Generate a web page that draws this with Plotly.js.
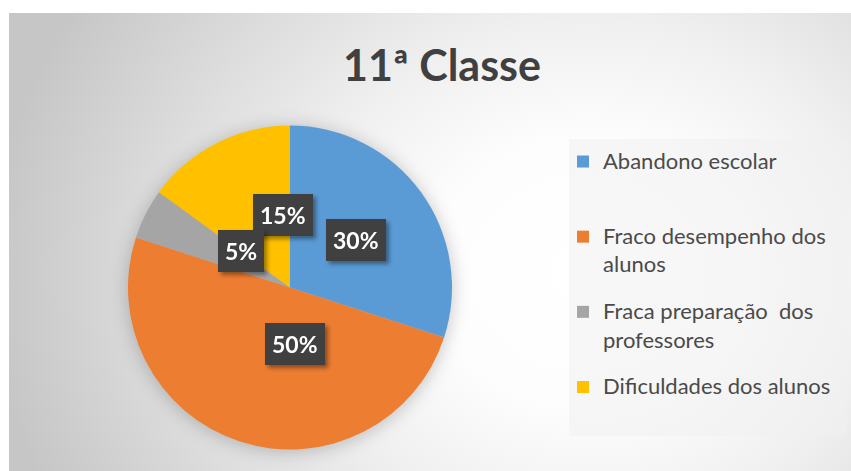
<!DOCTYPE html>
<html>
<head>
<meta charset="utf-8">
<script src="https://cdn.plot.ly/plotly-3.0.1.min.js"></script>
<style>
  html, body { margin: 0; padding: 0; background: #ffffff; }
  #wrap { position: relative; width: 851px; height: 471px; overflow: hidden; }
  #bg { position: absolute; left: 9px; top: 13px; width: 842px; height: 458px;
        background: radial-gradient(ellipse 600px 520px at 580px 260px, #ffffff 0%, #fdfdfd 26%, #f0f0f0 48%, #dddddd 72%, #c6c6c6 100%); }
  #chart { position: absolute; left: 0; top: 0; width: 851px; height: 471px; }
  .pielayer { filter: drop-shadow(0px 2px 9px rgba(0,0,0,0.22)); }
  .annotation { filter: drop-shadow(3px 3px 2px rgba(0,0,0,0.4)); }
  .legendtext tspan.line { font-size: 22px; }
</style>
</head>
<body>
<div id="wrap">
  <div id="bg"></div>
  <div id="chart"></div>
</div>
<script>
// ---- data ----
const categories = [
  "Abandono escolar",
  "Fraco desempenho dos alunos",
  "Fraca preparação  dos professores",
  "Dificuldades dos alunos"
];
// legend labels (line-broken as in the reference; blank lines keep equal slots)
const legendLines = [
  ["Abandono escolar", "\u00a0", "\u00a0"],
  ["Fraco desempenho dos", "alunos", "\u00a0"],
  ["Fraca preparação  dos", "professores", "\u00a0"],
  ["Dificuldades dos alunos", "\u00a0", "\u00a0"]
];
const values = [30, 50, 5, 15];
const percentLabels = ["30%", "50%", "5%", "15%"];
const colors = ["#5B9BD5", "#ED7D31", "#A5A5A5", "#FFC000"];

// ---- layout geometry ----
const W = 851, H = 471;
const CX = 290, CY = 287.5, R = 162;
const domX = [(CX - R) / W, (CX + R) / W];
const domY = [1 - (CY + R) / H, 1 - (CY - R) / H];

const legendLabels = legendLines.map(lines => lines.join("<br>"));

// data labels at half radius along each slice's mid-angle (clockwise from 12 o'clock)
const total = values.reduce((a, b) => a + b, 0);
let cum = 0;
const annotations = values.map((v, i) => {
  const mid = (cum + v / 2) / total * 2 * Math.PI;
  cum += v;
  return {
    xref: "paper", yref: "paper",
    x: (CX + 0.5 * R * Math.sin(mid)) / W,
    y: 1 - (CY - 0.5 * R * Math.cos(mid)) / H,
    text: "<b>" + percentLabels[i] + "</b>",
    showarrow: false,
    font: { family: "Lato, 'Open Sans', sans-serif", size: 23, color: "#ffffff" },
    bgcolor: "#404040",
    borderpad: 7,
    borderwidth: 0
  };
}).reverse();

const trace = {
  type: "pie",
  labels: legendLabels,
  values: values,
  sort: false,
  direction: "clockwise",
  rotation: 0,
  textinfo: "none",
  hoverinfo: "percent",
  marker: { colors: colors, line: { width: 0 } },
  domain: { x: domX, y: domY }
};

const layout = {
  width: W, height: H,
  margin: { l: 0, r: 0, t: 0, b: 0 },
  paper_bgcolor: "rgba(0,0,0,0)",
  plot_bgcolor: "rgba(0,0,0,0)",
  title: {
    text: "<b>11ª Classe</b>",
    font: { family: "Lato, 'Open Sans', sans-serif", size: 43, color: "#404040" },
    x: 442 / W, xanchor: "center",
    y: 1 - 66 / H, yanchor: "middle"
  },
  showlegend: true,
  legend: {
    x: 563 / W, xanchor: "left",
    y: 1 - 143 / H, yanchor: "top",
    bgcolor: "rgba(0,0,0,0)",
    borderwidth: 0,
    valign: "top",
    font: { family: "Lato, 'Open Sans', sans-serif", size: 18.5, color: "#4a4a4a" }
  },
  shapes: [{
    type: "rect", xref: "paper", yref: "paper", layer: "below",
    x0: 569 / W, x1: 847 / W, y0: 1 - 436 / H, y1: 1 - 139 / H,
    fillcolor: "rgba(240,240,240,0.55)", line: { width: 0 }
  }],
  annotations: annotations
};

Plotly.newPlot("chart", [trace], layout, { displayModeBar: false, staticPlot: true });
</script>
</body>
</html>
